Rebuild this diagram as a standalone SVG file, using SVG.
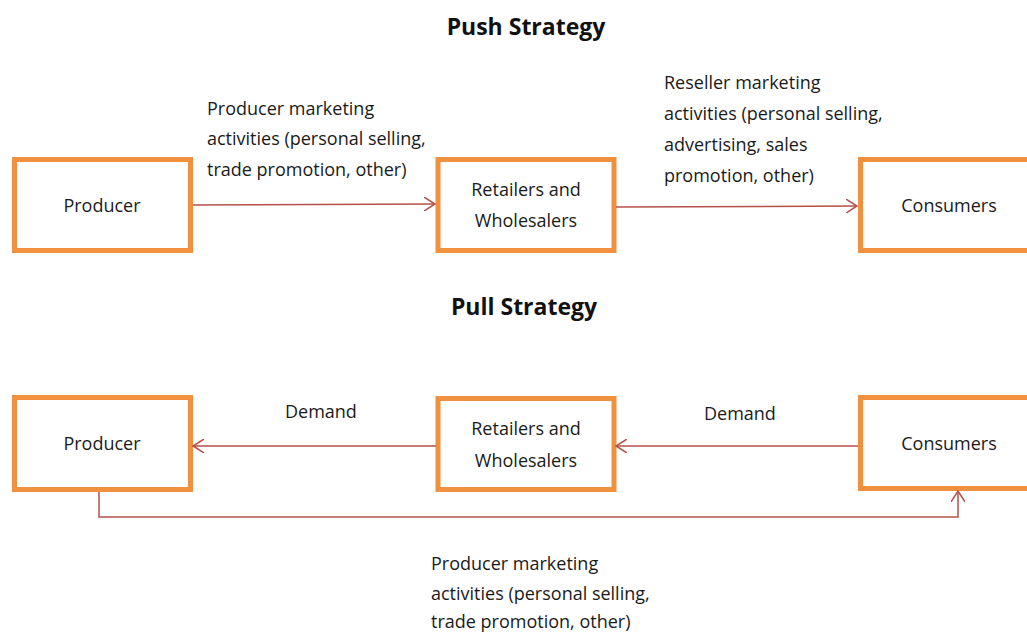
<svg xmlns="http://www.w3.org/2000/svg" width="1027" height="633" viewBox="0 0 1027 633">
<style>
.box{fill:#fff;stroke:#F0913F;stroke-width:5}
.t{font-family:"Open Sans","Liberation Sans",sans-serif;font-size:18px;fill:#1a1a1a}
.c{text-anchor:middle}
.h{font-family:"Open Sans","Liberation Sans",sans-serif;font-size:23px;font-weight:bold;fill:#111;text-anchor:middle}
.ln{fill:none;stroke:#B5504A;stroke-width:1.5}
</style>
<defs>
<marker id="ah" viewBox="0 0 12 14" refX="11" refY="7" markerWidth="12" markerHeight="14" markerUnits="userSpaceOnUse" orient="auto">
<path d="M0,0 L11,7 L0,14" fill="none" stroke="#B5504A" stroke-width="1.5"/>
</marker>
</defs>
<rect width="1027" height="633" fill="#fff"/>
<text class="h" x="526" y="35">Push Strategy</text>
<text class="h" x="524" y="315">Pull Strategy</text>
<g id="push-producer"><rect class="box" x="14.5" y="159.5" width="176" height="91"/><text class="t c" x="102" y="212">Producer</text></g>
<g id="push-retailers"><rect class="box" x="438" y="159.5" width="176" height="91"/><text class="t c" x="526" y="196">Retailers and</text><text class="t c" x="526" y="227">Wholesalers</text></g>
<g id="push-consumers"><rect class="box" x="860.5" y="159.5" width="176" height="91"/><text class="t c" x="949" y="212">Consumers</text></g>
<g id="pull-producer"><rect class="box" x="14.5" y="397.5" width="176" height="92"/><text class="t c" x="102" y="450">Producer</text></g>
<g id="pull-retailers"><rect class="box" x="438" y="398.5" width="176" height="91"/><text class="t c" x="526" y="435">Retailers and</text><text class="t c" x="526" y="467">Wholesalers</text></g>
<g id="pull-consumers"><rect class="box" x="860.5" y="397.5" width="176" height="91"/><text class="t c" x="949" y="450">Consumers</text></g>
<g id="connectors">
<line class="ln" x1="193" y1="205" x2="435" y2="204" marker-end="url(#ah)"/>
<line class="ln" x1="616" y1="207" x2="857" y2="206" marker-end="url(#ah)"/>
<line class="ln" x1="436" y1="446" x2="193" y2="446" marker-end="url(#ah)"/>
<line class="ln" x1="858" y1="446" x2="616" y2="446" marker-end="url(#ah)"/>
<path class="ln" d="M99,492 V517 H958 V491" marker-end="url(#ah)"/>
</g>
<g id="labels">
<text class="t" x="207" y="115">Producer marketing</text>
<text class="t" x="207" y="145">activities (personal selling,</text>
<text class="t" x="207" y="176">trade promotion, other)</text>
<text class="t" x="664" y="89">Reseller marketing</text>
<text class="t" x="664" y="120">activities (personal selling,</text>
<text class="t" x="664" y="151">advertising, sales</text>
<text class="t" x="664" y="182">promotion, other)</text>
<text class="t" x="285" y="418">Demand</text>
<text class="t" x="704" y="420">Demand</text>
<text class="t" x="431" y="570">Producer marketing</text>
<text class="t" x="431" y="600">activities (personal selling,</text>
<text class="t" x="431" y="628">trade promotion, other)</text>
</g>
</svg>
